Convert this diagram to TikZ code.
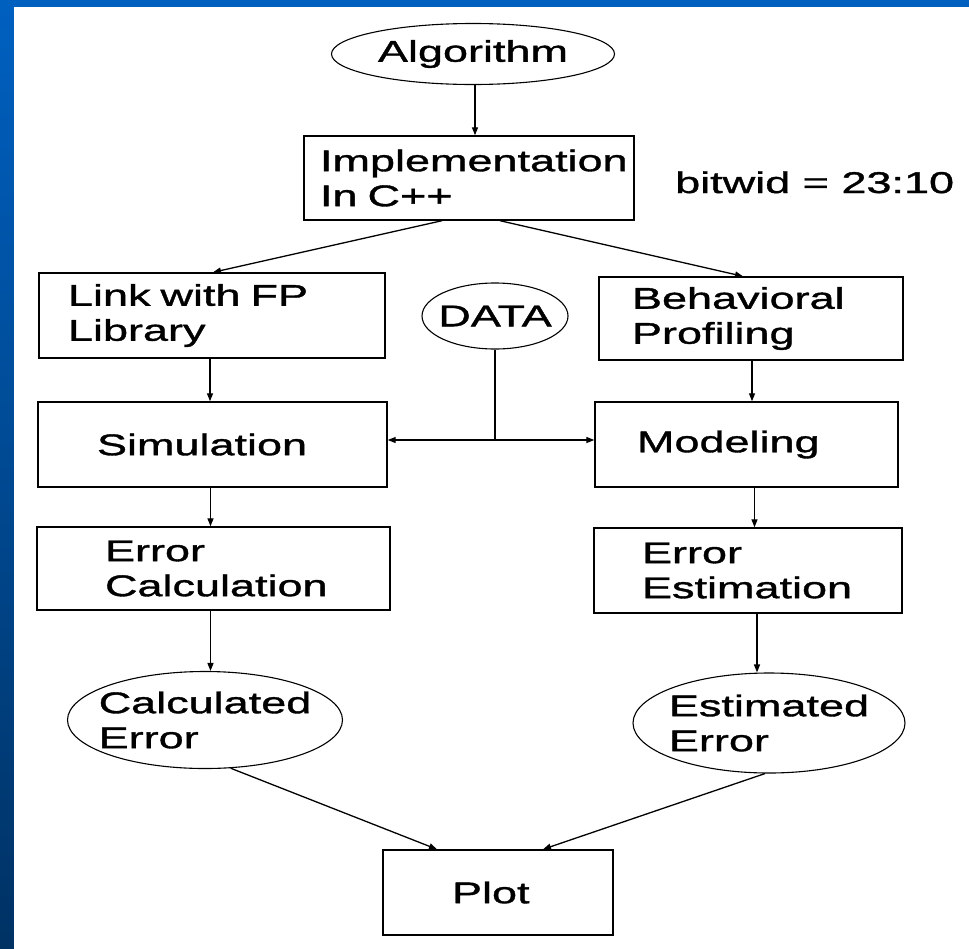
\documentclass[tikz,border=0pt]{standalone}
\usepackage{fontspec}
\setmainfont{Liberation Sans}[FakeStretch=1.5, FakeBold=1.2]
\usetikzlibrary{arrows.meta,shapes.geometric,calc}

\definecolor{slidetop}{RGB}{0,96,192}
\definecolor{slidebottom}{RGB}{0,50,100}

\begin{document}
\begin{tikzpicture}[x=1pt,y=-1pt,
  every node/.style={font=\fontsize{30}{35}\selectfont, text=black},
  procbox/.style={draw, line width=1.4pt, rectangle, align=left, inner ysep=0pt},
  oval/.style={draw, line width=1.1pt, ellipse, align=left, inner xsep=-10pt, inner ysep=0pt},
  flow/.style={line width=1.3pt, -{Triangle[length=8pt,width=6pt]}},
  feed/.style={line width=1.3pt}
]
\useasboundingbox (0,0) rectangle (969,948);

% slide background with white page
\shade[top color=slidetop, bottom color=slidebottom] (0,0) rectangle (969,948);
\fill[white] (14,7) rectangle (990,970);

% nodes
\node[oval, minimum width=283pt, minimum height=61pt] (alg) at (473,54) {Algorithm};
\node[procbox, minimum width=330pt, minimum height=84pt, inner xsep=16pt, text width=298pt] (impl) at (469,178) {Implementation\\In C++};
\node[anchor=base west, inner sep=0pt] (bw) at (675,193) {bitwid = 23:10};

\node[procbox, minimum width=346pt, minimum height=85pt, inner xsep=29pt, text width=288pt] (link) at (212,315.5) {Link with FP\\Library};
\node[oval, minimum width=146pt, minimum height=66pt] (data) at (495,316) {DATA};
\node[procbox, minimum width=304pt, minimum height=83pt, inner xsep=33pt, text width=238pt] (beh) at (751,318.5) {Behavioral\\Profiling};

\node[procbox, minimum width=349pt, minimum height=85pt, inner xsep=59pt, text width=231pt] (sim) at (212.5,444.5) {Simulation};
\node[procbox, minimum width=303pt, minimum height=85pt, inner xsep=42pt, text width=219pt] (mod) at (746.5,444.5) {Modeling};

\node[procbox, minimum width=353pt, minimum height=83pt, inner xsep=68pt, text width=217pt] (ecalc) at (213.5,568.5) {Error\\Calculation};
\node[procbox, minimum width=308pt, minimum height=85pt, inner xsep=48pt, text width=212pt] (eest) at (748,570.5) {Error\\Estimation};

\node[oval, minimum width=275pt, minimum height=97pt] (cerr) at (205,720) {Calculated\\Error};
\node[oval, minimum width=272pt, minimum height=100pt] (serr) at (769,723) {Estimated\\Error};

\node[procbox, minimum width=230pt, minimum height=85pt, inner xsep=69pt, text width=92pt] (plot) at (498,892.5) {Plot};

% connectors
\draw[flow] ([xshift=2pt]alg.south) -- ([xshift=2pt]alg.south |- impl.north);
\draw[flow] ([xshift=-27pt]impl.south) -- ([xshift=1pt]link.north);
\draw[flow] ([xshift=31pt]impl.south) -- ([xshift=-8pt]beh.north);
\draw[flow] ([xshift=-2pt]link.south) -- ([xshift=-2pt]link.south |- sim.north);
\draw[flow] ([xshift=1pt]beh.south) -- ([xshift=1pt]beh.south |- mod.north);
\draw[flow] ([xshift=-2pt]sim.south) -- ([xshift=-2pt]sim.south |- ecalc.north);
\draw[flow] ([xshift=8pt]mod.south) -- ([xshift=8pt]mod.south |- eest.north);
\draw[flow] ([xshift=-3pt]ecalc.south) -- ([xshift=-3pt]ecalc.south |- cerr.north);
\draw[flow] ([xshift=9pt]eest.south) -- ([xshift=9pt]eest.south |- serr.north);

% DATA feeds both branches
\coordinate (junc) at (495,440);
\draw[feed] (data.south) -- (junc);
\draw[flow] (junc) -- (sim.east |- junc);
\draw[flow] (junc) -- (mod.west |- junc);

\draw[flow] (cerr.-62) -- ([xshift=-61pt]plot.north);
\draw[flow] ([xshift=-4pt]serr.south) -- ([xshift=45pt]plot.north);
\end{tikzpicture}
\end{document}
